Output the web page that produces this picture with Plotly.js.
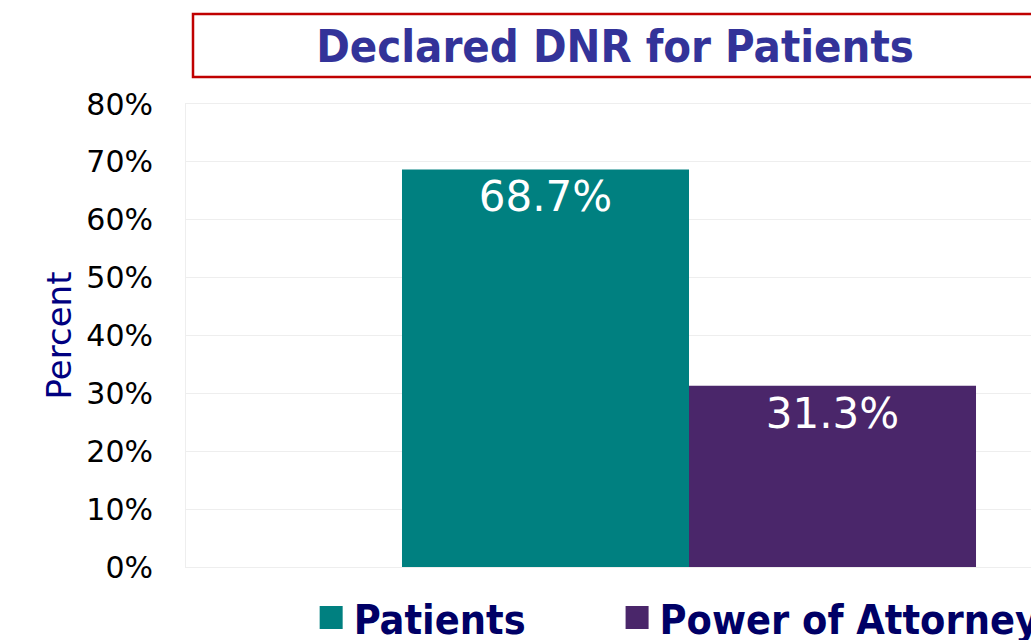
<!DOCTYPE html>
<html>
<head>
<meta charset="utf-8">
<script src="https://cdn.plot.ly/plotly-3.0.1.min.js"></script>
<style>
html, body { margin: 0; padding: 0; overflow: hidden; background: #fff; }
#chart { width: 1200px; height: 640px; }
</style>
</head>
<body>
<div id="chart"></div>
<script>
var categories = ['Declared DNR'];
var seriesNames = ['Patients', 'Power of Attorney'];
var patientsValues = [68.7];
var attorneyValues = [31.3];
var seriesColors = ['#008080', '#4a266a'];
var yTickValues = [0, 10, 20, 30, 40, 50, 60, 70, 80];
var yTickLabels = ['0%', '10%', '20%', '30%', '40%', '50%', '60%', '70%', '80%'];
var chartTitle = 'Declared DNR for Patients';
var yAxisTitle = 'Percent';

function barTrace(name, values, color, legendId) {
  return {
    type: 'bar',
    name: name,
    x: categories,
    y: values,
    marker: { color: color, line: { width: 0 } },
    texttemplate: '%{y:.1f}%',
    textposition: 'inside',
    insidetextanchor: 'end',
    constraintext: 'none',
    textfont: { family: 'DejaVu Sans', size: 42, color: '#ffffff' },
    hoverinfo: 'skip',
    showlegend: true,
    legend: legendId
  };
}

var data = [
  barTrace(seriesNames[0], patientsValues, seriesColors[0], 'legend'),
  barTrace(seriesNames[1], attorneyValues, seriesColors[1], 'legend2')
];

function legendBox(xPos) {
  return {
    orientation: 'h',
    x: xPos,
    xanchor: 'left',
    y: -0.11,
    yanchor: 'middle',
    font: { family: 'DejaVu Sans Condensed', size: 41, weight: 'bold', color: '#000066' },
    bgcolor: 'rgba(0,0,0,0)',
    borderwidth: 0,
    itemclick: false,
    itemdoubleclick: false
  };
}

var layout = {
  width: 1200,
  height: 640,
  paper_bgcolor: '#ffffff',
  plot_bgcolor: '#ffffff',
  font: { family: 'DejaVu Sans', color: '#000000' },
  margin: { l: 186, r: 8, t: 104, b: 73, autoexpand: false },
  title: {
    text: chartTitle,
    x: 0.5125,
    xanchor: 'center',
    y: 1 - 46 / 640,
    yanchor: 'middle',
    font: { family: 'DejaVu Sans Condensed', size: 45, weight: 'bold', color: '#333399' }
  },
  barmode: 'group',
  bargap: 0.4294,
  bargroupgap: 0,
  xaxis: {
    type: 'category',
    range: [-0.5, 0.5],
    showticklabels: false,
    ticks: '',
    showgrid: false,
    zeroline: false,
    showline: true,
    linecolor: '#eeeeee',
    linewidth: 1,
    mirror: true,
    fixedrange: true
  },
  yaxis: {
    range: [0, 80],
    tickmode: 'array',
    tickvals: yTickValues,
    ticktext: yTickLabels,
    tickfont: { family: 'DejaVu Sans', size: 30, color: '#000000' },
    ticks: 'outside',
    ticklen: 26,
    tickcolor: 'rgba(0,0,0,0)',
    showgrid: true,
    gridcolor: '#eeeeee',
    gridwidth: 1,
    zeroline: false,
    showline: true,
    linecolor: '#eeeeee',
    mirror: true,
    title: {
      text: yAxisTitle,
      font: { family: 'DejaVu Sans', size: 34, color: '#000080' },
      standoff: 4
    },
    fixedrange: true
  },
  showlegend: true,
  legend: legendBox(0.1269),
  legend2: legendBox(0.4310),
  shapes: [{
    type: 'rect',
    xref: 'paper',
    yref: 'paper',
    x0: 7 / 1006,
    x1: 851 / 1006,
    y0: 490 / 463,
    y1: 553 / 463,
    line: { color: '#c00000', width: 2.5 },
    fillcolor: 'rgba(0,0,0,0)',
    layer: 'above'
  }]
};

Plotly.newPlot('chart', data, layout, { displayModeBar: false, staticPlot: true }).then(function () {
  // enlarge the legend swatches to the reference's 23x23 px squares
  document.querySelectorAll('#chart .legendpoints path').forEach(function (p) {
    p.setAttribute('d', 'M-14,-11.5H9V11.5H-14Z');
  });
});
</script>
</body>
</html>
